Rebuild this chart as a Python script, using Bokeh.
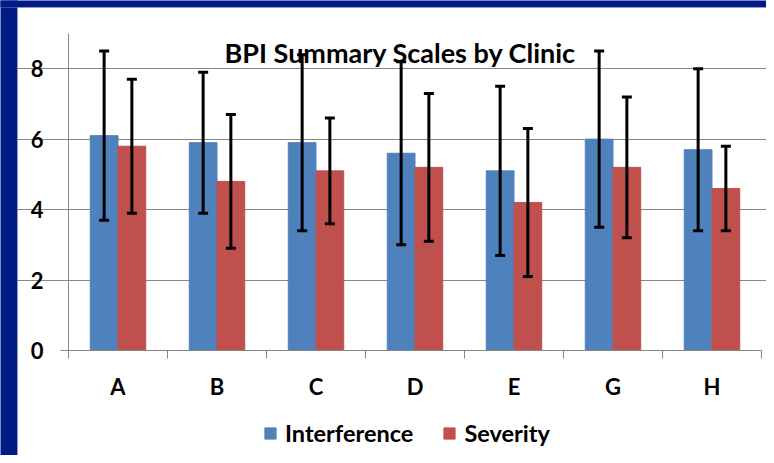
import numpy as np
from bokeh.plotting import figure
from bokeh.models import (Range1d, FixedTicker, Whisker, ColumnDataSource, Legend,
                          LegendItem, Label, BoxAnnotation)
from bokeh.embed import file_html
from bokeh.resources import INLINE

clinics = ["A", "B", "C", "D", "E", "G", "H"]
interference = [6.1, 5.9, 5.9, 5.6, 5.1, 6.0, 5.7]
interference_upper = [8.5, 7.9, 8.4, 8.2, 7.5, 8.5, 8.0]
interference_lower = [3.7, 3.9, 3.4, 3.0, 2.7, 3.5, 3.4]
severity = [5.8, 4.8, 5.1, 5.2, 4.2, 5.2, 4.6]
severity_upper = [7.7, 6.7, 6.6, 7.3, 6.3, 7.2, 5.8]
severity_lower = [3.9, 2.9, 3.6, 3.1, 2.1, 3.2, 3.4]
y_ticks = [0, 2, 4, 6, 8]
y_max = 9

FONT = "Lato"
BLUE = "#4F81BD"
RED = "#C0504D"
GRID = "#878787"
FRAME_BLUE = "#001B84"
EDGE = "#c8c8c8"

W, H = 766, 455
# plot-area placement on the canvas (pixels)
PL, PR, PT, PB = 68, 761, 33, 350

n = len(clinics)
centers = np.arange(n) + 0.5
off = 0.14
bw = 0.28

xs = (PR - PL) / n
ys = (PB - PT) / y_max
x0, x1 = -PL / xs, n + (W - PR) / xs
y0, y1 = -(H - PB) / ys, y_max + PT / ys

src_i = ColumnDataSource(dict(x=centers - off, top=interference,
                              upper=interference_upper, lower=interference_lower))
src_s = ColumnDataSource(dict(x=centers + off, top=severity,
                              upper=severity_upper, lower=severity_lower))

p = figure(width=W, height=H, output_backend="svg", toolbar_location=None,
           x_range=Range1d(x0, x1), y_range=Range1d(y0, y1),
           min_border=0, min_border_left=0, min_border_right=0,
           min_border_top=0, min_border_bottom=0)
p.outline_line_color = None
p.background_fill_color = "white"
p.border_fill_color = "white"

# dark-blue slide border (left and top)
p.add_layout(BoxAnnotation(left=x0 - 1, right=x0 + 17 / xs, bottom=y0 - 1, top=y1 + 1,
                           fill_color=FRAME_BLUE, fill_alpha=1,
                           line_color=EDGE, line_width=1))
p.add_layout(BoxAnnotation(left=x0 - 1, right=x1 + 1, bottom=y1 - 7 / ys, top=y1 + 1,
                           fill_color=FRAME_BLUE, fill_alpha=1,
                           line_color=EDGE, line_width=1))

p.ygrid.ticker = FixedTicker(ticks=y_ticks[1:])
p.ygrid.grid_line_color = GRID
p.ygrid.grid_line_width = 1
p.ygrid.bounds = (0, n)
p.xgrid.grid_line_color = None

r_i = p.vbar(x="x", top="top", width=bw, source=src_i, fill_color=BLUE, line_color=BLUE)
r_s = p.vbar(x="x", top="top", width=bw, source=src_s, fill_color=RED, line_color=RED)

for src in (src_i, src_s):
    w = Whisker(base="x", upper="upper", lower="lower", source=src,
                line_color="black", line_width=3, level="annotation")
    w.upper_head.size = 10
    w.lower_head.size = 10
    w.upper_head.line_width = 3
    w.lower_head.line_width = 3
    p.add_layout(w)

# x axis: labels at centers, boundary ticks as minor ticks
xa = p.xaxis[0]
xa.fixed_location = 0
xa.bounds = (0, n)
xa.ticker = FixedTicker(ticks=list(centers), minor_ticks=list(range(n + 1)))
xa.major_label_overrides = {float(c): lab for c, lab in zip(centers, clinics)}
xa.major_tick_line_color = None
xa.minor_tick_line_color = GRID
xa.minor_tick_in = 0
xa.minor_tick_out = 8
xa.axis_line_color = GRID
xa.major_label_text_font = FONT
xa.major_label_text_font_style = "bold"
xa.major_label_text_font_size = "22px"
xa.major_label_text_color = "black"
xa.major_label_standoff = 14

ya = p.yaxis[0]
ya.fixed_location = 0
ya.bounds = (0, y_max)
ya.ticker = FixedTicker(ticks=y_ticks, minor_ticks=[])
ya.axis_line_color = GRID
ya.major_tick_line_color = GRID
ya.major_tick_in = 0
ya.major_tick_out = 8
ya.minor_tick_line_color = None
ya.major_label_text_font = FONT
ya.major_label_text_font_style = "bold"
ya.major_label_text_font_size = "22px"
ya.major_label_text_color = "black"
ya.major_label_standoff = 17

legend = Legend(items=[LegendItem(label="Interference", renderers=[r_i]),
                       LegendItem(label="Severity", renderers=[r_s])],
                orientation="horizontal", location=(263, 8),
                background_fill_alpha=0, border_line_color=None,
                padding=0, margin=0, spacing=29, label_standoff=8,
                glyph_width=14, glyph_height=14,
                label_text_font=FONT, label_text_font_style="bold",
                label_text_font_size="23.5px", label_text_color="black")
p.add_layout(legend, "center")

title = Label(x=400, y=H - 52, x_units="screen", y_units="screen",
              text="BPI Summary Scales by Clinic", text_align="center",
              text_baseline="alphabetic", text_font=FONT, text_font_style="bold",
              text_font_size="27px", text_color="black")
p.add_layout(title)

open("out.html", "w").write(file_html(p, INLINE))
